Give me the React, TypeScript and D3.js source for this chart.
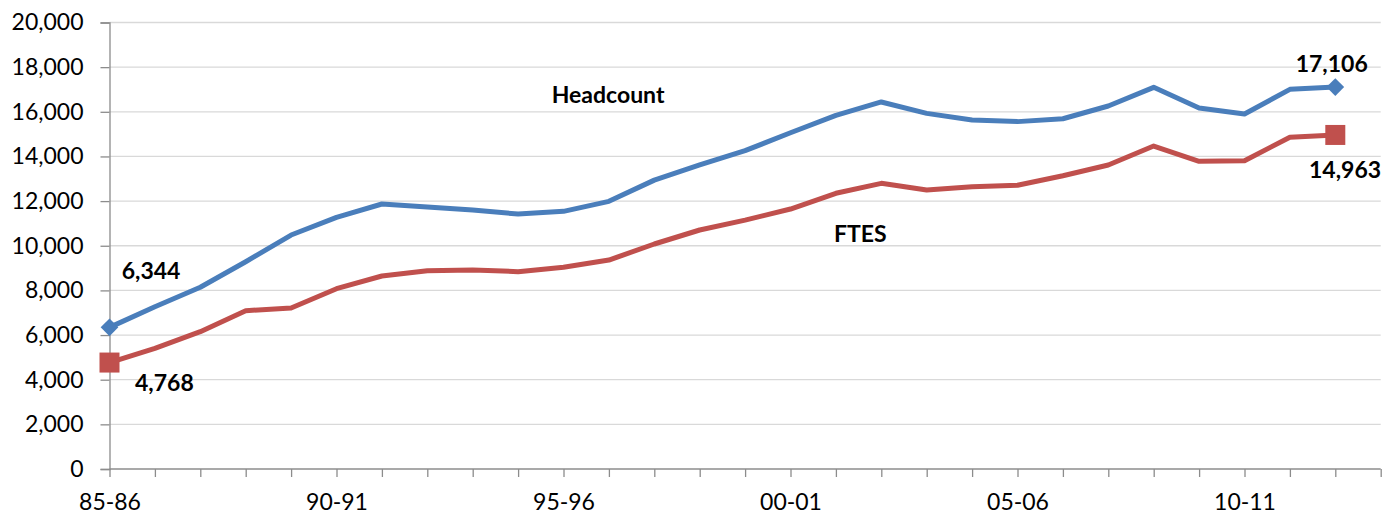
import React, { useEffect, useRef } from 'react';
import * as d3 from 'd3';

// x categories (last slot is empty, axis runs one category further)
const years = [
  '85-86', '86-87', '87-88', '88-89', '89-90', '90-91', '91-92', '92-93', '93-94', '94-95',
  '95-96', '96-97', '97-98', '98-99', '99-00', '00-01', '01-02', '02-03', '03-04', '04-05',
  '05-06', '06-07', '07-08', '08-09', '09-10', '10-11', '11-12', '12-13', '13-14'
];
const tickLabels = ['85-86', '90-91', '95-96', '00-01', '05-06', '10-11'];

const headcount = [
  6344, 7270, 8140, 9285, 10480, 11270, 11870, 11740, 11600, 11420,
  11540, 11990, 12940, 13620, 14260, 15060, 15840, 16440, 15930, 15630,
  15560, 15690, 16260, 17096, 16170, 15900, 17006, 17106
];
const ftes = [
  4768, 5406, 6150, 7090, 7210, 8076, 8644, 8880, 8910, 8840,
  9034, 9360, 10078, 10705, 11150, 11645, 12350, 12796, 12496, 12645,
  12707, 13137, 13616, 14467, 13782, 13810, 14857, 14963
];
const yTicks = [0, 2000, 4000, 6000, 8000, 10000, 12000, 14000, 16000, 18000, 20000];

export default function App() {
  const svgRef = useRef(null);

  useEffect(() => {
    const svg = d3.select(svgRef.current);
    svg.selectAll('*').remove();

    const left = 109.5, right = 1380.7, top = 22.5, bottom = 469;
    const font = 'Lato, "Open Sans", sans-serif';

    const x = d3.scalePoint<string>().domain(years).range([left, right]);
    const y = d3.scaleLinear().domain([0, 20000]).range([bottom, top]);
    const fmt = d3.format(',');

    // gridlines
    svg.append('g')
      .selectAll('line')
      .data(yTicks.filter(d => d > 0))
      .join('line')
      .attr('x1', left).attr('x2', right)
      .attr('y1', d => y(d)).attr('y2', d => y(d))
      .attr('stroke', '#d9d9d9')
      .attr('stroke-width', 1.3);

    // y axis
    const yAxis = svg.append('g')
      .attr('transform', `translate(${left},0)`)
      .call(d3.axisLeft(y).tickValues(yTicks).tickSize(9).tickPadding(17).tickFormat(d => fmt(d as number)));
    yAxis.select('.domain').attr('stroke', '#8c8c8c').attr('stroke-width', 1.3);
    yAxis.selectAll('.tick line').attr('stroke', '#8c8c8c').attr('stroke-width', 1.3);
    yAxis.selectAll('text')
      .attr('font-family', font).attr('font-size', 23).attr('fill', '#000');

    // x axis
    const xAxis = svg.append('g')
      .attr('transform', `translate(0,${bottom})`)
      .call(d3.axisBottom(x).tickSize(8).tickPadding(17)
        .tickFormat(d => (tickLabels.includes(d) ? d : '')));
    xAxis.select('.domain').attr('stroke', '#8c8c8c').attr('stroke-width', 1.3)
      .attr('d', `M${left},0H${right}`);
    xAxis.selectAll('.tick line').attr('stroke', '#8c8c8c').attr('stroke-width', 1.3);
    xAxis.selectAll('text')
      .attr('font-family', font).attr('font-size', 23).attr('fill', '#000');

    const line = d3.line<number>()
      .x((d, i) => x(years[i]) as number)
      .y(d => y(d));

    svg.append('path').datum(ftes)
      .attr('fill', 'none').attr('stroke', '#c0504d').attr('stroke-width', 5)
      .attr('stroke-linejoin', 'round').attr('d', line);
    svg.append('path').datum(headcount)
      .attr('fill', 'none').attr('stroke', '#4a7ebb').attr('stroke-width', 5)
      .attr('stroke-linejoin', 'round').attr('d', line);

    // end markers
    const ends = (arr: number[]) => [0, arr.length - 1].map(i => ({ i, v: arr[i] }));
    svg.append('g').selectAll('path')
      .data(ends(headcount))
      .join('path')
      .attr('transform', d => `translate(${x(years[d.i])},${y(d.v)})`)
      .attr('d', d3.symbol(d3.symbolDiamond2, 200)())
      .attr('fill', '#4a7ebb');
    svg.append('g').selectAll('rect')
      .data(ends(ftes))
      .join('rect')
      .attr('x', d => (x(years[d.i]) as number) - 10)
      .attr('y', d => y(d.v) - 10)
      .attr('width', 20).attr('height', 20)
      .attr('fill', '#c0504d');

    // labels
    const labels = [
      { t: 'Headcount', x: 551.7, y: 103.3 },
      { t: 'FTES', x: 834, y: 242.3 },
      { t: fmt(headcount[0]), x: 121.7, y: 279.3 },
      { t: fmt(ftes[0]), x: 135, y: 390.7 },
      { t: fmt(headcount[headcount.length - 1]), x: 1295.7, y: 71.7 },
      { t: fmt(ftes[ftes.length - 1]), x: 1309, y: 177.7 }
    ];
    svg.append('g').selectAll('text')
      .data(labels)
      .join('text')
      .attr('x', d => d.x).attr('y', d => d.y)
      .attr('font-family', font).attr('font-weight', 'bold').attr('font-size', 23)
      .attr('fill', '#000')
      .text(d => d.t);
  }, []);

  return (
    <svg
      ref={svgRef}
      width="1386"
      height="517"
      style={{ position: 'absolute', left: 0, top: 0, background: '#fff', display: 'block' }}
    />
  );
}
